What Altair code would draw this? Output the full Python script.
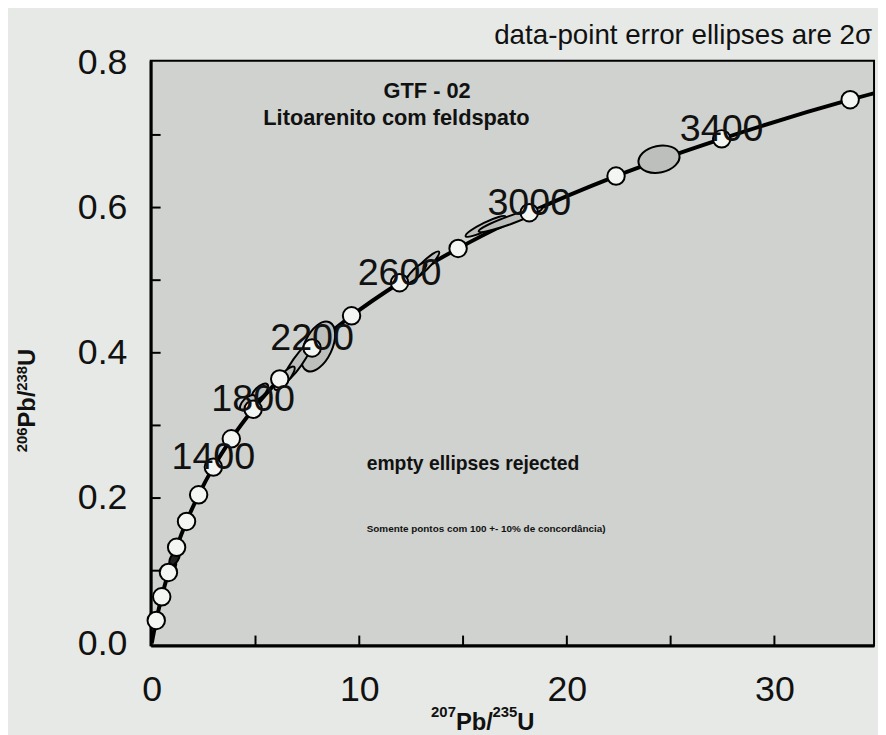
import altair as alt
import pandas as pd

# Concordia curve (207Pb/235U , 206Pb/238U), 200 Ma steps
curve_age = [0, 200, 400, 600, 800, 1000, 1200, 1400, 1600, 1800, 2000, 2200,
             2400, 2600, 2800, 3000, 3200, 3400, 3600, 3700]
curve_x = [0.0, 0.218, 0.483, 0.806, 1.199, 1.677, 2.260, 2.970, 3.834, 4.886,
           6.167, 7.727, 9.628, 11.94, 14.76, 18.19, 22.37, 27.46, 33.65, 37.25]
curve_y = [0.0, 0.0315, 0.064, 0.0976, 0.1322, 0.1678, 0.2045, 0.2426, 0.2816,
           0.3222, 0.3640, 0.4067, 0.4510, 0.4965, 0.5437, 0.5929, 0.6434,
           0.6946, 0.7485, 0.7754]

label_ages = [1400, 1800, 2200, 2600, 3000, 3400]

# Data-point error ellipses (centre, major axis px, minor/major ratio, tilt)
ell_x = [24.44, 8.02, 7.02, 6.40, 5.20, 4.63, 13.13, 12.74, 16.09, 17.28, 0.91, 1.10]
ell_y = [0.6666, 0.4087, 0.387, 0.365, 0.346, 0.331, 0.519, 0.510, 0.574, 0.583, 0.103, 0.117]
ell_major = [42, 54, 50, 30, 22, 20, 42, 28, 45, 68, 18, 16]
ell_ratio = [0.64, 0.52, 0.2, 0.3, 0.45, 0.5, 0.2, 0.3, 0.18, 0.12, 0.45, 0.5]
ell_tilt = [12, 65, 55, 50, 45, 45, 45, 45, 26, 20, 60, 60]
ell_fill = ["#bdbfbc", "#bdbfbc", "#bdbfbc", "#bdbfbc", "#bdbfbc", "#bdbfbc",
            "#bdbfbc", "#bdbfbc", "#bdbfbc", "#bdbfbc", "#222222", "#222222"]

x_ticks = [5, 10, 15, 20, 25, 30]
y_ticks = [0.1, 0.2, 0.3, 0.4, 0.5, 0.6, 0.7]

XDOM = [-0.05, 34.8]
YDOM = [-0.003, 0.802]
W, H = 730, 590

curve = pd.DataFrame({"age": curve_age, "x": curve_x, "y": curve_y})
markers = curve[(curve.age > 0) & (curve.age <= 3600)]
labels = curve[curve.age.isin(label_ages)].copy()
labels["txt"] = labels.age.astype(str)

k = 0.5523


def ellipse_path(b):
    kb = k * b
    return (f"M1,0 C1,{kb:.4f} {k},{b:.4f} 0,{b:.4f} "
            f"C-{k},{b:.4f} -1,{kb:.4f} -1,0 "
            f"C-1,-{kb:.4f} -{k},-{b:.4f} 0,-{b:.4f} "
            f"C{k},-{b:.4f} 1,-{kb:.4f} 1,0 Z")


ell = pd.DataFrame({
    "x": ell_x, "y": ell_y,
    "size": [m * m for m in ell_major],
    "shape": [ellipse_path(r) for r in ell_ratio],
    "angle": [360 - t for t in ell_tilt],
    "fill": ell_fill,
})

xs = alt.Scale(domain=XDOM, nice=False, zero=False)
ys = alt.Scale(domain=YDOM, nice=False, zero=False)

FONT = "Liberation Sans"

base_x = alt.X("x:Q", scale=xs, title=None,
               axis=alt.Axis(values=[0, 10, 20, 30], ticks=False, grid=False,
                             labelFontSize=36, labelFont=FONT, labelPadding=28,
                             labelColor="#111", domainColor="black",
                             domainWidth=3, labelFlush=False))
base_y = alt.Y("y:Q", scale=ys, title=None,
               axis=alt.Axis(values=[0, 0.2, 0.4, 0.6, 0.8], format=".1f",
                             ticks=False, grid=False, labelFontSize=36,
                             labelFont=FONT, labelPadding=24, labelColor="#111",
                             domainColor="black", domainWidth=3,
                             labelFlush=False))

line = alt.Chart(curve).mark_line(color="black", strokeWidth=4,
                                  interpolate="monotone", clip=True).encode(
    x=base_x, y=base_y, order="age:Q")

ellipses = alt.Chart(ell).mark_point(filled=True, stroke="black",
                                     strokeWidth=2, opacity=1).encode(
    x=alt.X("x:Q", scale=xs), y=alt.Y("y:Q", scale=ys),
    shape=alt.Shape("shape:N", scale=None),
    size=alt.Size("size:Q", scale=None),
    angle=alt.Angle("angle:Q", scale=None),
    fill=alt.Fill("fill:N", scale=None))

mk = alt.Chart(markers).mark_circle(size=310, fill="#f4f6f3", stroke="black",
                                    strokeWidth=2, opacity=1).encode(
    x=alt.X("x:Q", scale=xs), y=alt.Y("y:Q", scale=ys))

lab = alt.Chart(labels).mark_text(fontSize=38, font=FONT, dy=-9,
                                  color="#111").encode(
    x=alt.X("x:Q", scale=xs), y=alt.Y("y:Q", scale=ys), text="txt:N")

xt = alt.Chart(pd.DataFrame({"t": x_ticks})).mark_rule(
    color="black", strokeWidth=2).encode(
    x=alt.X("t:Q", scale=xs), y=alt.value(H), y2=alt.value(H - 10))

yt = alt.Chart(pd.DataFrame({"t": y_ticks})).mark_rule(
    color="black", strokeWidth=2).encode(
    y=alt.Y("t:Q", scale=ys), x=alt.value(0), x2=alt.value(10))


def txt(s, x, y, size, weight="normal", angle=0, align="center",
        baseline="middle", font=FONT):
    return alt.Chart(pd.DataFrame({"s": [s]})).mark_text(
        fontSize=size, font=font, fontWeight=weight, angle=angle,
        align=align, baseline=baseline, color="#111").encode(
        x=alt.value(x), y=alt.value(y), text="s:N")


annots = [
    txt("data-point error ellipses are 2σ", 728, -25, 28, align="right"),
    txt("GTF - 02", 279, 30, 22, "bold"),
    txt("Litoarenito com feldspato", 248, 58, 22, "bold"),
    txt("empty ellipses rejected", 218, 407, 19.5, "bold", align="left"),
    txt("Somente pontos com 100 +- 10% de concordância)", 218, 472, 10,
        "bold", align="left"),
    # x-axis title: 207Pb/235U
    txt("207", 283, 662, 15, "bold", align="left", baseline="alphabetic"),
    txt("Pb/", 308, 675, 24, "bold", align="left", baseline="alphabetic"),
    txt("235", 345, 662, 15, "bold", align="left", baseline="alphabetic"),
    txt("U", 370, 675, 24, "bold", align="left", baseline="alphabetic"),
    # y-axis title: 206Pb/238U (rotated)
    txt("206", -125, 395, 15, "bold", angle=270, align="left",
        baseline="alphabetic"),
    txt("Pb/", -117, 370, 24, "bold", angle=270, align="left",
        baseline="alphabetic"),
    txt("238", -125, 333, 15, "bold", angle=270, align="left",
        baseline="alphabetic"),
    txt("U", -117, 308, 24, "bold", angle=270, align="left",
        baseline="alphabetic"),
]

chart = alt.layer(line, ellipses, mk, lab, xt, yt, *annots).properties(
    width=W, height=H,
    padding={"left": 144, "top": 50, "right": 4, "bottom": 87},
    autosize="none",
).configure(background="#e6e9e5").configure_view(
    fill="#cfd2ce", stroke="black", strokeWidth=2)

chart.save("out.html", embed_options={"renderer": "svg", "actions": False})
